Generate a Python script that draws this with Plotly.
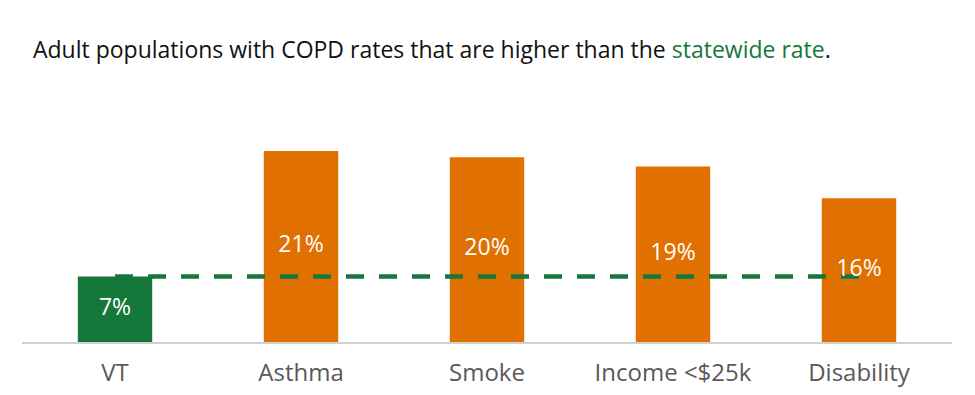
import plotly.graph_objects as go

categories = ["VT", "Asthma", "Smoke", "Income <$25k", "Disability"]
rates = [7.2, 21.0, 20.3, 19.3, 15.8]
statewide_rate = 7.2

GREEN = "#16773A"
ORANGE = "#E07000"
FONT = "Open Sans, Liberation Sans, Arial, sans-serif"

colors = [GREEN] + [ORANGE] * (len(categories) - 1)
labels = [f"{round(v)}%" for v in rates]

fig = go.Figure()
fig.add_trace(go.Bar(x=categories, y=rates, marker=dict(color=colors, line=dict(width=0)),
                     hoverinfo="skip", showlegend=False))
fig.add_trace(go.Scatter(x=[categories[0], categories[-1]], y=[statewide_rate, statewide_rate],
                         mode="lines", line=dict(color=GREEN, width=4.5, dash="18px,15px"),
                         hoverinfo="skip", showlegend=False))
fig.add_trace(go.Scatter(x=categories, y=[v / 2 for v in rates], mode="text", text=labels,
                         textfont=dict(color="white", size=23, family=FONT),
                         hoverinfo="skip", showlegend=False))

fig.update_layout(
    width=975, height=395,
    margin=dict(l=14, r=31, t=102, b=61),
    paper_bgcolor="white", plot_bgcolor="white",
    bargap=0.6,
    title=dict(
        text="Adult populations with COPD rates that are higher than the "
             f"<span style='color:{GREEN}'>statewide rate</span>.",
        x=25 / 975, xref="container", xanchor="left",
        y=1 - 42 / 395, yref="container", yanchor="middle",
        font=dict(size=23, color="#111111", family=FONT),
    ),
    xaxis=dict(showline=True, linecolor="#D0D0D0", linewidth=1.5, ticks="",
               showgrid=False, tickfont=dict(size=24, color="#595959", family=FONT),
               ticklabelstandoff=8),
    yaxis=dict(range=[0, 25.5], visible=False, showgrid=False, zeroline=False),
)

fig.write_html("out.html")
